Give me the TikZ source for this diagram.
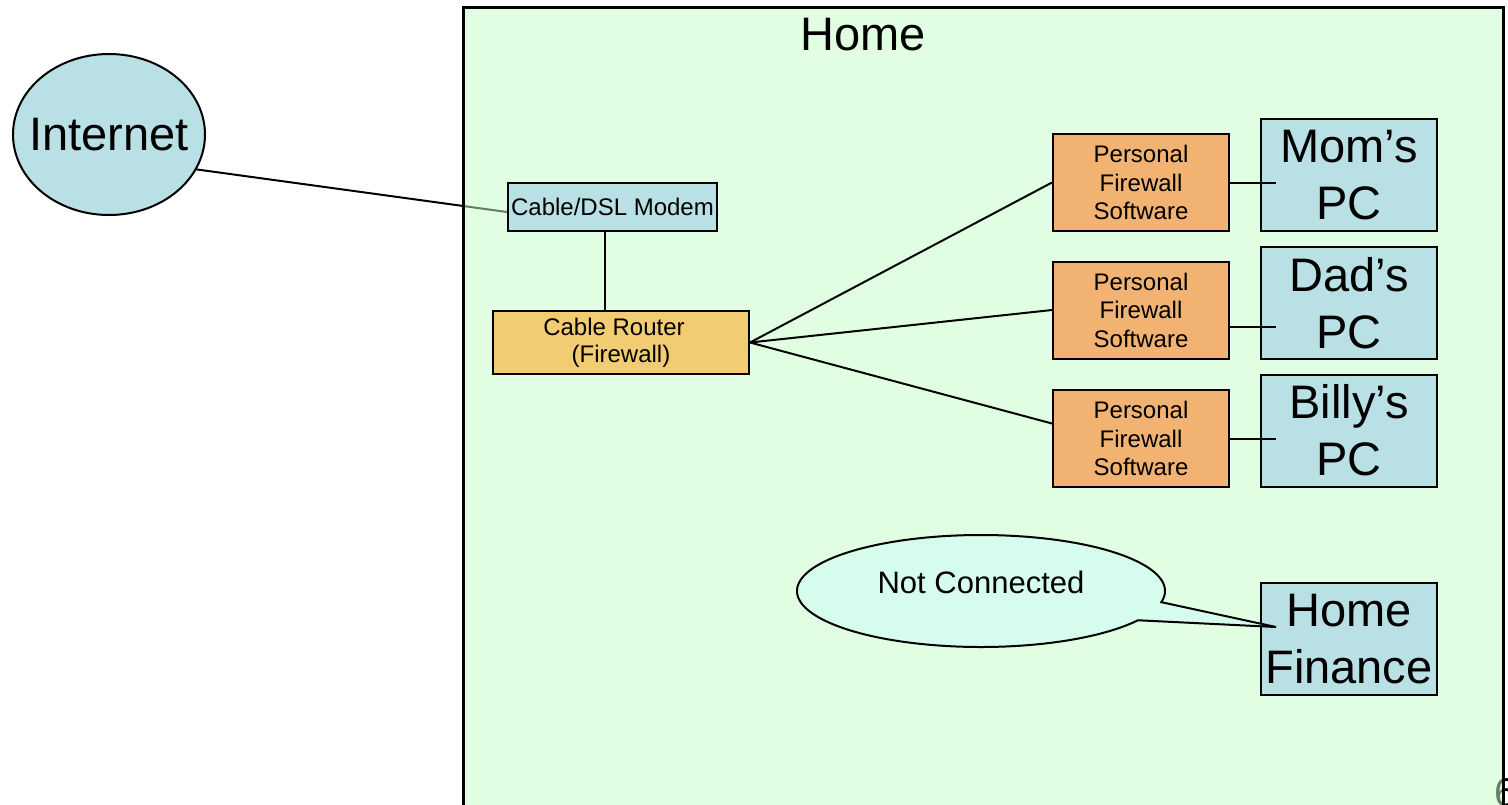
\documentclass[tikz,border=0pt]{standalone}
\usepackage{fontspec}
\setmainfont{Liberation Sans}
\usetikzlibrary{shapes.geometric,calc}
\pgfdeclarelayer{lines}
\pgfdeclarelayer{homelayer}
\pgfsetlayers{lines,homelayer,main}
\definecolor{pcblue}{RGB}{185,224,228}
\definecolor{routercol}{RGB}{242,204,114}
\definecolor{fwcol}{RGB}{242,178,114}
\definecolor{homefill}{RGB}{198,253,198}
\definecolor{calloutcol}{RGB}{214,252,238}
\newcommand\fsz[2]{\fontsize{#1pt}{#2pt}\selectfont}
\tikzset{
  box/.style={draw, line width=2pt, inner sep=0pt, align=center},
  pcbox/.style={box, fill=pcblue, minimum width=176pt, minimum height=112pt, font=\fsz{47}{57}},
  fwbox/.style={box, fill=fwcol, minimum width=176pt, minimum height=97pt, font=\fsz{24}{28.5}},
  conn/.style={line width=2pt},
}
\begin{document}
\begin{tikzpicture}[x=1pt,y=-1pt]
\useasboundingbox (0,0) rectangle (1508,804);
% title
\node[anchor=base, font=\fsz{47}{54}] (title) at (863,50) {Home};
% Internet
\draw[line width=2pt, fill=pcblue] (109,134.5) ellipse [x radius=96, y radius=80.5];
\node[ellipse, inner xsep=-12.5pt, inner ysep=40pt, font=\fsz{47}{54}] (internet) at (109,134.5) {Internet};
% modem and router
\node[box, fill=pcblue, minimum width=209pt, minimum height=48pt, font=\fsz{24}{28}] (modem) at (612.5,207) {Cable/DSL Modem};
\node[box, fill=routercol, minimum width=256pt, minimum height=63pt, font=\fsz{24}{27}] (router) at (621,342.5) {Cable Router\rule{14pt}{0pt}\\(Firewall)};
% firewalls
\node[fwbox] (fw1) at (1141,182.5) {Personal\\Firewall\\Software};
\node[fwbox] (fw2) at (1141,310) {Personal\\Firewall\\Software};
\node[fwbox] (fw3) at (1141,438.5) {Personal\\Firewall\\Software};
% PCs
\node[pcbox] (pc1) at (1349,175) {Mom’s\\PC};
\node[pcbox] (pc2) at (1349,303) {Dad’s\\PC};
\node[pcbox] (pc3) at (1349,430.5) {Billy’s\\PC};
\node[pcbox] (hf) at (1349,639) {Home\\Finance};
% callout
\coordinate (tip) at ([xshift=16pt,yshift=12pt]hf.west);
\draw[line width=2pt, fill=calloutcol] (tip) -- ($(981,591)+(11.5:184 and 56)$)
  arc[start angle=11.5, end angle=-328.5, x radius=184, y radius=56] -- cycle;
\node[font=\fsz{31}{36}] (nc) at (981,582) {Not Connected};
% connectors
\draw[conn] ([xshift=-7.5pt]modem.south) coordinate (ms) -- (ms |- router.north);
\draw[conn] (router.east) -- (fw1.west);
\draw[conn] (router.east) -- (fw2.west);
\draw[conn] (router.east) -- ([yshift=15pt]fw3.west);
\draw[conn] (fw1.east) -- ([xshift=16pt]fw1.east -| pc1.west);
\draw[conn] ([yshift=-17pt]fw2.east) coordinate (f2) -- ([xshift=16pt]f2 -| pc2.west);
\draw[conn] (fw3.east) -- ([xshift=16pt]fw3.east -| pc3.west);
\begin{pgfonlayer}{lines}
\draw[conn] (internet.-22) -- ([yshift=-5pt]modem.west);
\node[anchor=north west, inner sep=0pt, font=\fsz{40}{46}] (pagenum) at (1494,778) {6};
\end{pgfonlayer}
\begin{pgfonlayer}{homelayer}
\draw[line width=3pt, fill=homefill, fill opacity=0.5] (463,7) rectangle (1503,830);
\end{pgfonlayer}
\end{tikzpicture}
\end{document}
